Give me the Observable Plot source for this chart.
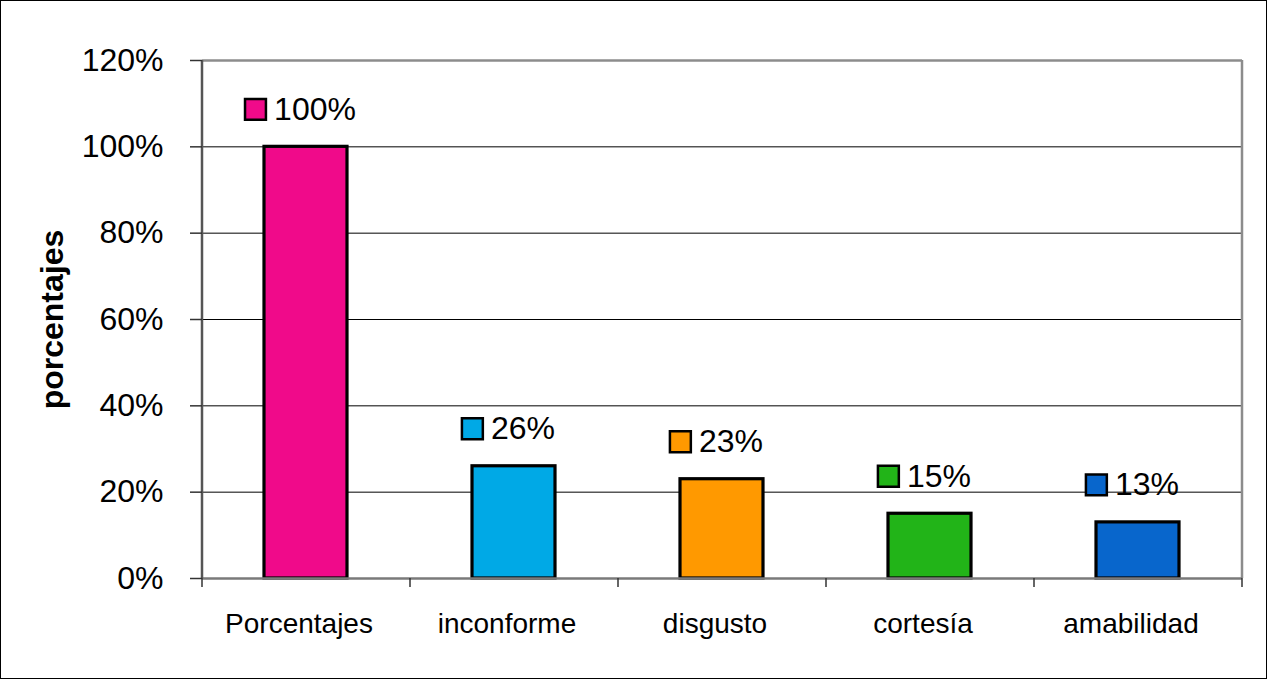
<!DOCTYPE html>
<html>
<head>
<meta charset="utf-8">
<script src="https://cdn.jsdelivr.net/npm/d3@7"></script>
<script src="https://cdn.jsdelivr.net/npm/@observablehq/plot@0.6"></script>
<style>
  body { margin: 0; background: #fff; }
  #wrap { position: relative; width: 1269px; height: 681px; overflow: hidden; }
  #border { position: absolute; left: 0; top: 0; width: 1265px; height: 677px; border: 1.5px solid #000; pointer-events: none; }
</style>
</head>
<body>
<div id="wrap"><div id="chart"></div><div id="border"></div></div>
<script>
const categories = ["Porcentajes", "inconforme", "disgusto", "cortesía", "amabilidad"];
const values = [1.00, 0.26, 0.23, 0.15, 0.13];
const colors = ["#F00A8A", "#00A9E6", "#FF9900", "#22B418", "#0866CC"];
const yTicks = [0, 0.2, 0.4, 0.6, 0.8, 1.0, 1.2];
const gridTicks = [0.2, 0.4, 0.6, 0.8, 1.0];
const yLabel = "porcentajes";

const W = 1269, H = 681, mL = 202, mR = 27, mT = 60, mB = 103;
const FONT = "'Liberation Sans', Arial, Helvetica, sans-serif";
const labelSize = 32;
const pct = d => Math.round(d * 100) + "%";

const data = categories.map((c, i) => ({category: c, value: values[i], color: colors[i], label: pct(values[i])}));

const ctx = document.createElement("canvas").getContext("2d");
ctx.font = `${labelSize}px 'Liberation Sans', Arial, sans-serif`;
const textW = s => ctx.measureText(s).width;

const step = (W - mL - mR) / categories.length;

const chart = Plot.plot({
  width: W, height: H,
  marginLeft: mL, marginRight: mR, marginTop: mT, marginBottom: mB,
  style: {fontFamily: FONT, background: "#fff", color: "#000", overflow: "visible"},
  x: {domain: categories, paddingInner: 0.6, paddingOuter: 0.3, label: null},
  y: {domain: [0, 1.2], label: null},
  marks: [
    // gridlines
    Plot.ruleY(gridTicks, {stroke: "#000", strokeWidth: 1}),
    // plot frame top/right
    Plot.ruleY([1.2], {stroke: "#8c8c8c", strokeWidth: 2.5}),
    Plot.ruleX([categories[categories.length - 1]], {dx: step / 2, stroke: "#8c8c8c", strokeWidth: 2.5}),
    // bars
    Plot.barY(data, {x: "category", y: "value", fill: "color", stroke: "#000", strokeWidth: 3.2}),
    // bottom axis line
    Plot.ruleY([0], {stroke: "#7a7a7a", strokeWidth: 2.5}),
    // left axis line
    Plot.ruleX([categories[0]], {dx: -step / 2, stroke: "#555", strokeWidth: 2.5}),
    // x ticks at category boundaries
    Plot.ruleX(categories, {x: d => d, dx: -step / 2, y1: () => 0, y2: () => 0, insetBottom: -9, stroke: "#333", strokeWidth: 1.5}),
    Plot.ruleX([categories[categories.length - 1]], {dx: step / 2, y1: () => 0, y2: () => 0, insetBottom: -9, stroke: "#333", strokeWidth: 1.5}),
    Plot.axisY({ticks: yTicks, tickSize: 12, tickPadding: 27, tickFormat: pct, fontSize: 32, stroke: "#333", strokeWidth: 1.5, label: null}),
    Plot.axisX({tickSize: 0, tickPadding: 35, dx: -7, fontSize: 28, label: null}),
    // data labels: legend key squares + text
    ...data.map(d => Plot.dot([d], {x: "category", y: "value", dy: -37.5, dx: -9.6 - textW(d.label) / 2, symbol: "square", r: 11.8, fill: "color", stroke: "#000", strokeWidth: 2.5})),
    Plot.text(data, {x: "category", y: "value", text: "label", dy: -37.5, dx: 9, fontSize: labelSize, fill: "#000", textAnchor: "middle", lineAnchor: "middle"}),
    // y axis title
    Plot.text([yLabel], {frameAnchor: "left", dx: -150, rotate: -90, fontSize: 32, fontWeight: "bold", fill: "#000", textAnchor: "middle", lineAnchor: "middle"})
  ]
});
document.getElementById("chart").appendChild(chart);
</script>
</body>
</html>
